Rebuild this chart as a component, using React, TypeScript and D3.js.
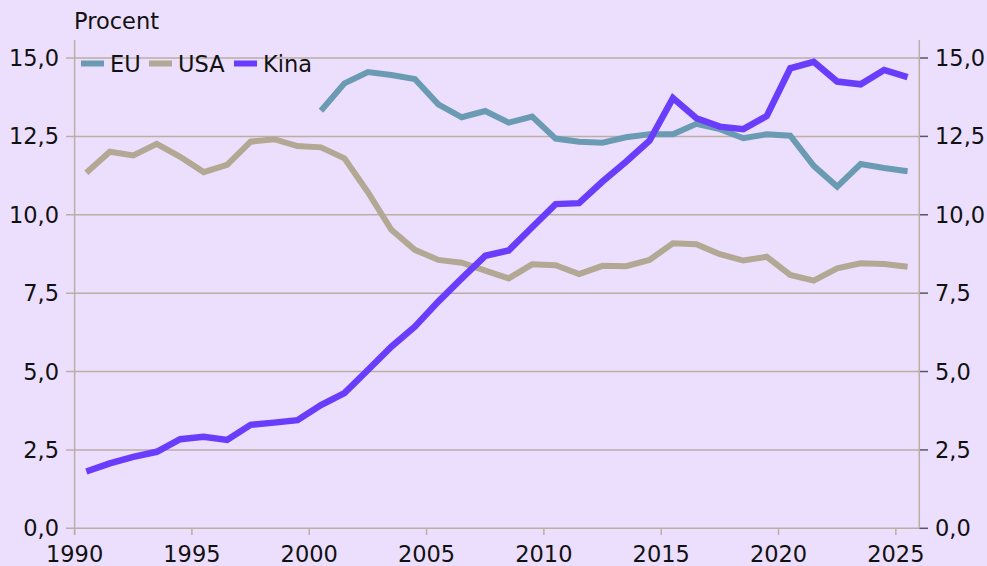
import React from "react";
import * as d3 from "d3";

const years = d3.range(1990, 2026);
const euYears = d3.range(2000, 2026);
const usa = [11.34, 12.01, 11.89, 12.26, 11.85, 11.36, 11.59, 12.33, 12.41, 12.19, 12.15, 11.8, 10.72, 9.52, 8.88, 8.56, 8.47, 8.22, 7.97, 8.42, 8.39, 8.11, 8.37, 8.36, 8.56, 9.09, 9.06, 8.74, 8.54, 8.66, 8.08, 7.9, 8.29, 8.45, 8.43, 8.34];
const eu = [13.32, 14.19, 14.55, 14.46, 14.33, 13.52, 13.11, 13.31, 12.94, 13.13, 12.43, 12.33, 12.3, 12.47, 12.57, 12.57, 12.9, 12.73, 12.44, 12.57, 12.52, 11.56, 10.9, 11.62, 11.49, 11.39];
const kina = [1.81, 2.07, 2.28, 2.44, 2.84, 2.92, 2.82, 3.3, 3.37, 3.45, 3.93, 4.31, 5.05, 5.79, 6.43, 7.23, 7.97, 8.69, 8.86, 9.6, 10.34, 10.37, 11.06, 11.69, 12.36, 13.72, 13.08, 12.81, 12.73, 13.15, 14.67, 14.88, 14.25, 14.16, 14.62, 14.39];
const yTicks = [0, 2.5, 5, 7.5, 10, 12.5, 15];
const xTicks = [1990, 1995, 2000, 2005, 2010, 2015, 2020, 2025];
const seriesNames = ["EU", "USA", "Kina"];
const colors = { EU: "#6b9bb2", USA: "#b3a894", Kina: "#6a3dfd" };

const W = 987, H = 566;
const x = d3.scaleLinear().domain([1990, 2026]).range([74.6, 919.3]);
const y = d3.scaleLinear().domain([0, 15]).range([528.3, 58]);
const top = 40;
const font = "'DejaVu Sans', sans-serif";
const fs = 22.5;
const fmt = (v: number) => v.toFixed(1).replace(".", ",");

export default function App() {
  const line = d3.line<[number, number]>().x(d => x(d[0] + 0.5)).y(d => y(d[1]));
  const usaPts = years.map((yr, i) => [yr, usa[i]] as [number, number]);
  const euPts = euYears.map((yr, i) => [yr, eu[i]] as [number, number]);
  const kinaPts = years.map((yr, i) => [yr, kina[i]] as [number, number]);
  const grid = "#bcaea3";
  const legendX = [81, 149, 234];
  return (
    <svg width={W} height={H} style={{ position: "absolute", left: 0, top: 0, background: "#ecdffd" }} fontFamily={font}>
      <rect x={0} y={0} width={W} height={H} fill="#ecdffd" />
      {yTicks.map(t => (
        <g key={t}>
          <line x1={66} x2={x.range()[1]} y1={y(t)} y2={y(t)} stroke={grid} strokeWidth={1.5} />
          <line x1={x.range()[1]} x2={928} y1={y(t)} y2={y(t)} stroke="#5a5566" strokeWidth={1.5} />
          <text x={59} y={y(t)} dy="0.36em" textAnchor="end" fontSize={fs} fill="#111">{fmt(t)}</text>
          <text x={935} y={y(t)} dy="0.36em" textAnchor="start" fontSize={fs} fill="#111">{fmt(t)}</text>
        </g>
      ))}
      <line x1={x.range()[0]} x2={x.range()[0]} y1={top} y2={535} stroke={grid} strokeWidth={1.5} />
      <line x1={x.range()[1]} x2={x.range()[1]} y1={top} y2={y(0)} stroke={grid} strokeWidth={1.5} />
      {xTicks.map(t => (
        <g key={t}>
          <line x1={x(t)} x2={x(t)} y1={y(0)} y2={535} stroke={grid} strokeWidth={1.5} />
          <text x={x(t)} y={562} textAnchor="middle" fontSize={fs} fill="#111">{t}</text>
        </g>
      ))}
      <path d={line(usaPts) || ""} fill="none" stroke={colors.USA} strokeWidth={6} strokeLinejoin="miter" />
      <path d={line(euPts) || ""} fill="none" stroke={colors.EU} strokeWidth={6} strokeLinejoin="miter" />
      <path d={line(kinaPts) || ""} fill="none" stroke={colors.Kina} strokeWidth={6.5} strokeLinejoin="miter" />
      <text x={74} y={29} fontSize={fs} fill="#111">Procent</text>
      {seriesNames.map((n, i) => (
        <g key={n}>
          <line x1={legendX[i]} x2={legendX[i] + 23} y1={63.5} y2={63.5} stroke={(colors as any)[n]} strokeWidth={6} />
          <text x={legendX[i] + 29} y={72} fontSize={fs} fill="#111">{n}</text>
        </g>
      ))}
    </svg>
  );
}
